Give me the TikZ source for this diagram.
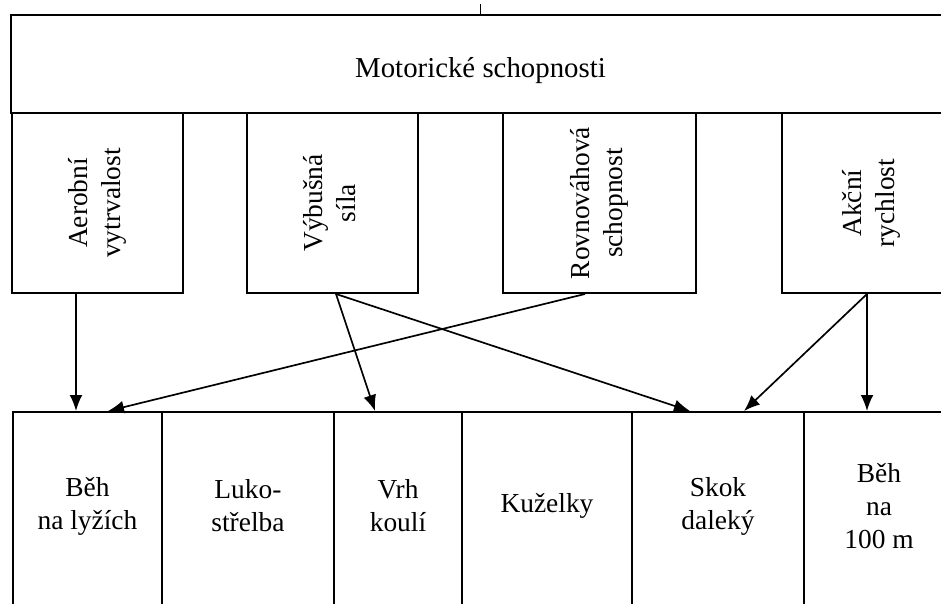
\documentclass[tikz,border=0pt]{standalone}
\usepackage{fontspec}
\setmainfont{Liberation Serif}
\usetikzlibrary{calc,arrows.meta}
\newcommand{\px}{0.025cm}

\begin{document}
\begin{tikzpicture}[x=\px,y=-\px,
  every node/.style={font=\fontsize{19.5}{23.5}\selectfont},
  box/.style={draw,line width=1.4pt,inner sep=0pt},
  lbl/.style={align=center,yshift=0.5cm},
  arr/.style={-{Latex[length=0.4cm,width=0.32cm]},line width=1.2pt}]
\useasboundingbox (0,0) rectangle (941,604);
\clip (0,0) rectangle (941,604);
% top box
\node[box,minimum width=939*\px,minimum height=98*\px,label={[yshift=-0.175cm,font=\fontsize{20.5}{24}\selectfont]center:Motorické schopnosti}] (mot) at (480.5,64) {};
\draw[line width=1.2pt] (mot.north) -- ++(0,-10);
% abilities
\node[box,minimum width=171*\px,minimum height=180*\px] (aer) at (97.5,203) {\rotatebox{90}{\begin{tabular}{@{}c@{}}Aerobní\\vytrvalost\end{tabular}}};
\node[box,minimum width=171*\px,minimum height=180*\px] (vyb) at (332.5,203) {\rotatebox{90}{\begin{tabular}{@{}c@{}}Výbušná\\síla\end{tabular}}};
\node[box,minimum width=193*\px,minimum height=180*\px] (rov) at (599.5,203) {\rotatebox{90}{\begin{tabular}{@{}c@{}}Rovnováhová\\schopnost\end{tabular}}};
\node[box,minimum width=178*\px,minimum height=180*\px] (akc) at (871,203) {\rotatebox{90}{\begin{tabular}{@{}c@{}}Akční\\rychlost\end{tabular}}};
% sports
\node[box,minimum width=149*\px,minimum height=228*\px,label={[lbl]center:Běh\\na lyžích}] (beh) at (87.5,526) {};
\node[box,minimum width=172*\px,minimum height=228*\px,label={[lbl]center:Luko-\\střelba}] (luk) at (248,526) {};
\node[box,minimum width=128*\px,minimum height=228*\px,label={[lbl]center:Vrh\\koulí}] (vrh) at (398,526) {};
\node[box,minimum width=170*\px,minimum height=228*\px,label={[lbl]center:Kuželky}] (kuz) at (547,526) {};
\node[box,minimum width=172*\px,minimum height=228*\px,label={[lbl]center:Skok\\daleký}] (skok) at (718,526) {};
\node[box,minimum width=150*\px,minimum height=228*\px,label={[lbl]center:Běh\\na\\100 m}] (bsto) at (879,526) {};
% arrows
\draw[arr] ($(aer.south)+(-21.5,0)$) -- ($(beh.north)+(-11.5,0)$);
\draw[arr] ($(rov.south)+(-14.5,0)$) -- ($(beh.north)+(20.5,0)$);
\draw[arr] ($(vyb.south)+(3.5,0)$) -- ($(vrh.north)+(-23,0)$);
\draw[arr] ($(vyb.south)+(3.5,0)$) -- ($(skok.north)+(-28,0)$);
\draw[arr] ($(akc.south)+(-4,0)$) -- ($(skok.north)+(26,0)$);
\draw[arr] ($(akc.south)+(-4,0)$) -- ($(bsto.north)+(-12,0)$);
\end{tikzpicture}
\end{document}
